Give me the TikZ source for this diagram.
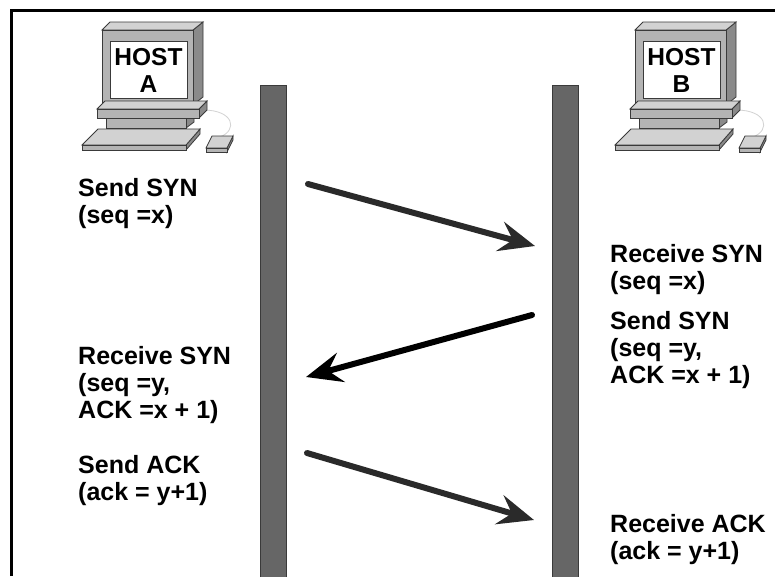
\documentclass[tikz,border=0pt]{standalone}
\usepackage{fontspec}
\setmainfont{Liberation Sans}
\usetikzlibrary{arrows.meta}

\definecolor{pcface}{HTML}{B4B4B4}
\definecolor{pctop}{HTML}{D2D2D2}
\definecolor{pcside}{HTML}{8A8A8A}
\definecolor{pcline}{HTML}{3A3A3A}
\definecolor{barfill}{HTML}{666666}
\definecolor{arrowgray}{HTML}{2A2A2A}

\tikzset{
  lbl/.style={anchor=north west, inner sep=0pt, align=left,
    font=\fontsize{25}{27}\selectfont\bfseries},
  hosttext/.style={inner sep=0pt, align=center,
    font=\fontsize{24.5}{27}\selectfont\bfseries},
  msg/.style={line width=6pt, line cap=round,
    -{Stealth[length=36pt, width=30pt, inset=13pt]}},
  lane/.style={fill=barfill, draw=pcline, line width=1pt},
  face/.style={fill=pcface, draw=pcline, line width=0.8pt},
  top/.style={fill=pctop, draw=pcline, line width=0.8pt},
  side/.style={fill=pcside, draw=pcline, line width=0.8pt}
}

% 主机图标
\newcommand{\hostpc}[2]{%
\begin{scope}[xshift=#1pt]
\draw[side] (193,30) -- (203,22) -- (203,97) -- (193,105) -- cycle;
\draw[top] (102,30) -- (110,22) -- (203,22) -- (193,30) -- cycle;
\draw[face] (102,30) rectangle (193,105);
\draw[fill=white, draw=pcline, line width=0.8pt] (110,41) rectangle (187,98);
\node[hosttext] (host#2) at (148.5,70) {HOST\\#2};
\draw[gray!35, line width=0.8pt] (203,110) .. controls (234,110) and (238,130) .. (220,137);
\draw[side] (186,117) -- (194,111) -- (194,122) -- (186,128) -- cycle;
\draw[face] (106,117) rectangle (186,128);
\draw[side] (199,109) -- (207,101) -- (207,110) -- (199,118) -- cycle;
\draw[top] (97,109) -- (105,101) -- (207,101) -- (199,109) -- cycle;
\draw[face] (97,109) rectangle (199,118);
\draw[side] (186,145) -- (200,129) -- (200,134) -- (186,150) -- cycle;
\draw[top] (82,145) -- (98,129) -- (200,129) -- (186,145) -- cycle;
\draw[face] (82,145) rectangle (186,150);
\draw[side] (227,148) -- (233,136) -- (233,140) -- (227,152) -- cycle;
\draw[top] (206,148) -- (212,136) -- (233,136) -- (227,148) -- cycle;
\draw[face] (206,148) rectangle (227,152);
\end{scope}}

\begin{document}
\begin{tikzpicture}[x=1pt, y=-1pt]
\useasboundingbox (0,0) rectangle (775,576);
\fill[white] (0,0) rectangle (775,576);
% 外框
\draw[line width=3pt] (11,576) -- (11,10) -- (775,10);
% 两条时间线
\draw[lane] (260,85) rectangle (286,580);
\draw[lane] (552,85) rectangle (578,580);
% 主机
\hostpc{0}{A}
\hostpc{533}{B}
% 文字
\node[lbl] (sendsynA) at (78,178) {Send SYN\\(seq =x)};
\node[lbl] (recvsynA) at (78,346) {Receive SYN\\(seq =y,\\ACK =x + 1)};
\node[lbl] (sendackA) at (78,455) {Send ACK\\(ack = y+1)};
\node[lbl] (recvsynB) at (610,244) {Receive SYN\\(seq =x)};
\node[lbl] (sendsynB) at (610,311) {Send SYN\\(seq =y,\\ACK =x + 1)};
\node[lbl] (recvackB) at (610,514) {Receive ACK\\(ack = y+1)};
% 箭头
\coordinate (syn1) at (308,184);
\coordinate (syn2) at (535,246);
\coordinate (synack1) at (532,315);
\coordinate (synack2) at (306,377);
\coordinate (ack1) at (307,453);
\coordinate (ack2) at (534,520);
\draw[msg, arrowgray] (syn1) -- (syn2);
\draw[msg, black] (synack1) -- (synack2);
\draw[msg, arrowgray] (ack1) -- (ack2);
\end{tikzpicture}
\end{document}
